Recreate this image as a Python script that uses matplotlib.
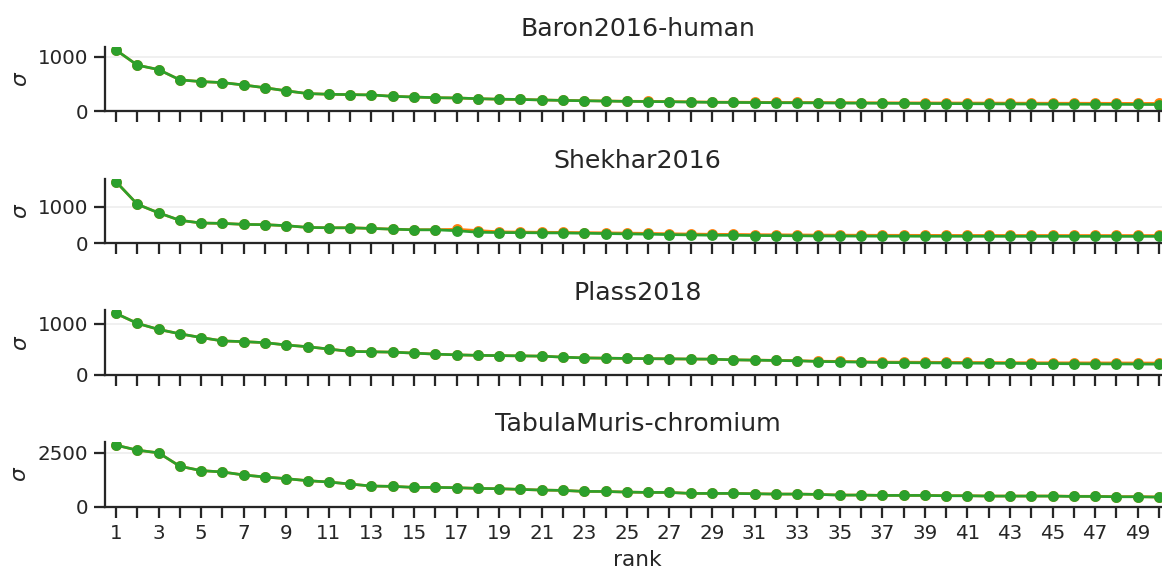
import matplotlib
matplotlib.use("Agg")
import matplotlib.pyplot as plt
import seaborn as sns
import numpy as np

ranks = np.arange(1, 51)

titles = ["Baron2016-human", "Shekhar2016", "Plass2018", "TabulaMuris-chromium"]
yticks = [[0, 1000], [0, 1000], [0, 1000], [0, 2500]]

# green series (drawn on top)
baron_g = [1118, 843, 762, 575, 543, 525, 481, 431, 375, 325,
           312, 306, 300, 275, 262, 250, 245, 232, 222, 218,
           208, 200, 194, 188, 182, 180, 176, 170, 165, 163,
           161, 158, 157, 155, 152, 150, 148, 146, 144, 142,
           140, 138, 136, 134, 132, 131, 130, 128, 126, 125]
baron_o = [1118, 843, 762, 575, 543, 525, 481, 431, 375, 325,
           312, 306, 300, 275, 262, 250, 245, 232, 222, 218,
           209, 201, 196, 190, 185, 183, 179, 174, 169, 168,
           166, 164, 163, 162, 159, 158, 157, 156, 155, 154,
           153, 152, 151, 150, 149, 149, 148, 147, 146, 146]

shekhar_g = [1685, 1067, 831, 626, 551, 542, 514, 506, 478, 430,
             421, 421, 402, 382, 365, 365, 340, 298, 289, 287,
             281, 279, 270, 262, 253, 245, 233, 225, 216, 214,
             207, 205, 200, 196, 194, 192, 190, 190, 188, 188,
             187, 187, 186, 186, 186, 185, 185, 185, 185, 185]
shekhar_o = [1685, 1067, 831, 626, 551, 542, 514, 506, 478, 430,
             421, 421, 404, 385, 368, 368, 380, 345, 310, 303,
             298, 294, 288, 282, 275, 268, 257, 250, 242, 239,
             232, 229, 225, 221, 219, 217, 215, 214, 213, 212,
             211, 211, 210, 210, 210, 209, 209, 209, 209, 209]

plass_g = [1199, 1006, 887, 801, 728, 662, 648, 628, 583, 549,
           503, 457, 450, 443, 424, 404, 390, 380, 375, 370,
           365, 345, 330, 325, 320, 315, 312, 308, 306, 292,
           286, 280, 273, 260, 255, 247, 240, 237, 234, 231,
           228, 226, 223, 220, 218, 216, 214, 212, 210, 208]
plass_o = [1199, 1006, 887, 801, 728, 662, 648, 628, 583, 549,
           503, 457, 450, 443, 424, 404, 390, 380, 375, 370,
           365, 345, 330, 325, 320, 315, 312, 308, 306, 293,
           288, 283, 277, 266, 262, 255, 249, 247, 245, 243,
           241, 240, 238, 236, 235, 234, 233, 232, 231, 230]

tabula_g = [2859, 2625, 2500, 1875, 1672, 1609, 1469, 1375, 1297, 1203,
            1141, 1047, 953, 938, 891, 891, 875, 844, 828, 797,
            766, 750, 703, 700, 672, 656, 656, 609, 609, 609,
            594, 578, 578, 562, 531, 531, 516, 516, 516, 500,
            500, 484, 484, 484, 484, 469, 469, 453, 453, 437]
tabula_o = [2859, 2625, 2500, 1875, 1672, 1609, 1469, 1375, 1297, 1203,
            1141, 1047, 953, 938, 891, 891, 875, 844, 828, 797,
            766, 750, 703, 700, 672, 656, 656, 610, 610, 610,
            596, 580, 580, 565, 535, 535, 520, 520, 520, 505,
            505, 490, 490, 490, 490, 476, 476, 461, 461, 446]

orange_sets = [baron_o, shekhar_o, plass_o, tabula_o]
green_sets = [baron_g, shekhar_g, plass_g, tabula_g]

sns.set_theme(style="ticks", context="notebook")

dpi = 130
fig, axes = plt.subplots(4, 1, sharex=True, figsize=(1162 / dpi, 570 / dpi), dpi=dpi)
plt.subplots_adjust(left=105.4 / 1162, right=1169.6 / 1162,
                    top=1 - 47 / 570, bottom=1 - 506.5 / 570, hspace=1.045)

for ax, title, o, g, yt in zip(axes, titles, orange_sets, green_sets, yticks):
    ax.plot(ranks, o, color="#ff7f0e", marker="o", lw=1.5, ms=5)
    ax.plot(ranks, g, color="#2ca02c", marker="o", lw=1.5, ms=5)
    ax.set_ylim(0, max(g) * 1.05)
    ax.set_yticks(yt)
    ax.yaxis.grid(True, color="#efefef", lw=1)
    ax.set_axisbelow(True)
    ax.set_title(title, fontsize=14)
    ax.set_ylabel(r"$\sigma$")
    sns.despine(ax=ax)

axes[-1].set_xlim(0.5, 50.5)
axes[-1].set_xticks(ranks)
axes[-1].set_xticklabels([str(r) if r % 2 == 1 else "" for r in ranks])
axes[-1].set_xlabel("rank")

fig.savefig("out.png", dpi=dpi)
